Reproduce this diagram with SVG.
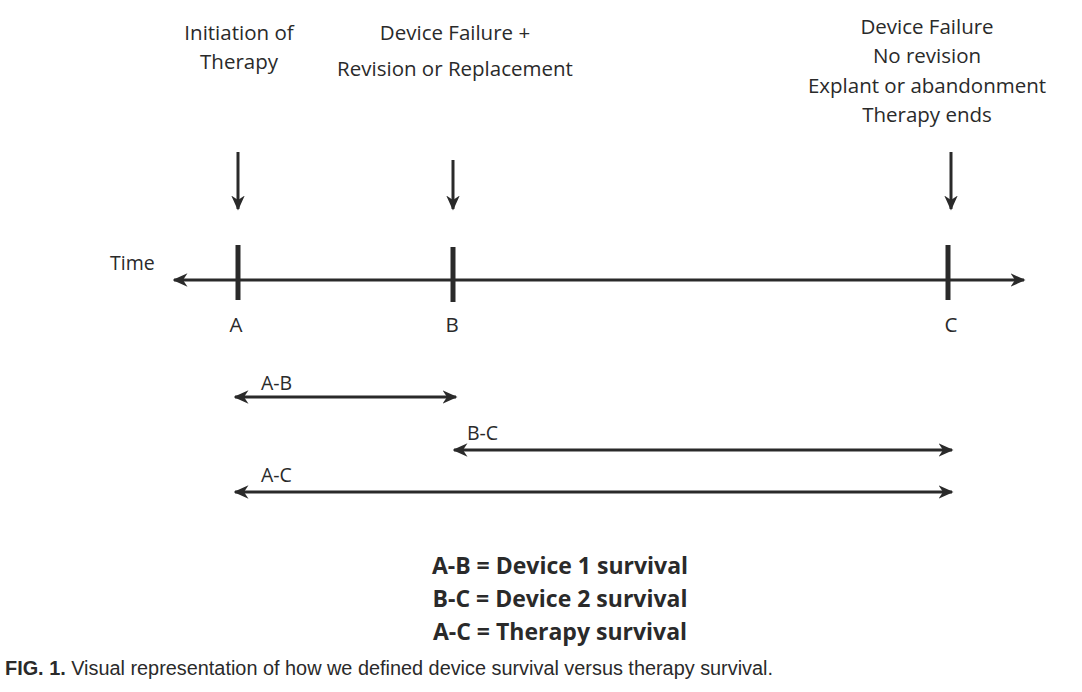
<svg xmlns="http://www.w3.org/2000/svg" width="1082" height="692" viewBox="0 0 1082 692">
<style>
.t{font-family:"Open Sans","Noto Sans",sans-serif;font-size:20.5px;fill:#2a2a2a;text-anchor:middle}
.l{font-family:"Open Sans","Noto Sans",sans-serif;font-size:19.5px;fill:#2a2a2a}
.b{font-family:"Open Sans","Noto Sans",sans-serif;font-size:23px;font-weight:bold;fill:#2a2a2a;text-anchor:middle}
.ln{stroke:#2a2a2a;stroke-width:3;fill:none}
.tk{stroke:#2a2a2a;stroke-width:5;fill:none}
</style>
<defs>
<marker id="ahs" viewBox="0 0 10 10" refX="9" refY="5" markerWidth="15" markerHeight="15" orient="auto-start-reverse" markerUnits="userSpaceOnUse">
<path d="M0,0.5 L10,5 L0,9.5 L3,5 z" fill="#2a2a2a"/>
</marker>
</defs>
<rect width="1082" height="692" fill="#fff"/>
<g id="label-A-top"><text class="t" x="239" y="40">Initiation of</text><text class="t" x="239" y="69">Therapy</text></g>
<g id="label-B-top"><text class="t" x="455" y="40">Device Failure +</text><text class="t" x="455" y="76">Revision or Replacement</text></g>
<g id="label-C-top"><text class="t" x="927" y="34">Device Failure</text><text class="t" x="927" y="63">No revision</text><text class="t" x="927" y="93">Explant or abandonment</text><text class="t" x="927" y="122">Therapy ends</text></g>
<g id="time"><text class="l" x="110" y="270">Time</text></g>
<g id="tick-A"><line class="tk" x1="238" y1="245" x2="238" y2="300"/><text class="t" x="236" y="332">A</text></g>
<g id="tick-B"><line class="tk" x1="453" y1="247" x2="453" y2="302"/><text class="t" x="452" y="332">B</text></g>
<g id="tick-C"><line class="tk" x1="948" y1="245" x2="948" y2="300"/><text class="t" x="951" y="332">C</text></g>
<g id="label-AB"><text class="l" x="261" y="390">A-B</text></g>
<g id="label-BC"><text class="l" x="467" y="440">B-C</text></g>
<g id="label-AC"><text class="l" x="261" y="482">A-C</text></g>
<g id="legend">
<text class="b" x="560" y="574">A-B = Device 1 survival</text>
<text class="b" x="560" y="607">B-C = Device 2 survival</text>
<text class="b" x="560" y="640">A-C = Therapy survival</text>
</g>
<g id="caption"><text x="5" y="675" font-family="Liberation Sans,Arial,sans-serif" font-size="20" fill="#2a2a2a" textLength="768" lengthAdjust="spacingAndGlyphs"><tspan font-weight="bold">FIG. 1.</tspan> Visual representation of how we defined device survival versus therapy survival.</text></g>
<g id="connectors">
<line class="ln" x1="174" y1="280" x2="1024" y2="280" marker-start="url(#ahs)" marker-end="url(#ahs)"/>
<line class="ln" x1="238" y1="152" x2="238" y2="209" marker-end="url(#ahs)"/>
<line class="ln" x1="453" y1="160" x2="453" y2="209" marker-end="url(#ahs)"/>
<line class="ln" x1="951" y1="152" x2="951" y2="209" marker-end="url(#ahs)"/>
<line class="ln" x1="235" y1="397" x2="456" y2="397" marker-start="url(#ahs)" marker-end="url(#ahs)"/>
<line class="ln" x1="454" y1="450" x2="952" y2="450" marker-start="url(#ahs)" marker-end="url(#ahs)"/>
<line class="ln" x1="235" y1="492" x2="952" y2="492" marker-start="url(#ahs)" marker-end="url(#ahs)"/>
</g>
</svg>
